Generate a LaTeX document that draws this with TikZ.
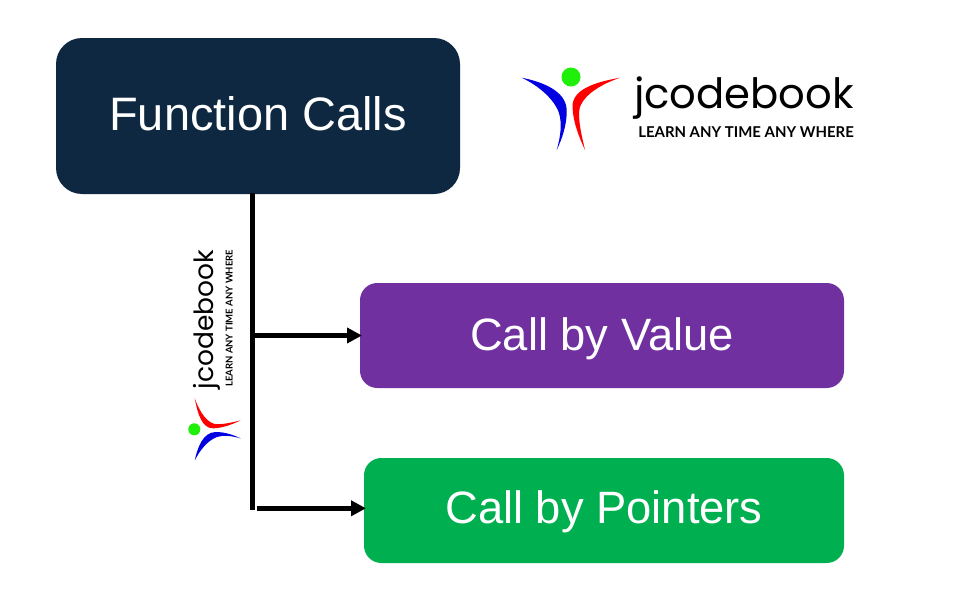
\documentclass[tikz,border=0pt]{standalone}
\usepackage{fontspec}
\setmainfont{Liberation Sans}
\newfontfamily\brandfont{Poppins}
\newfontfamily\tagfont{Lato}
\usetikzlibrary{arrows.meta}
\definecolor{navybox}{HTML}{0E2841}
\definecolor{purplebox}{HTML}{7030A0}
\definecolor{greenbox}{HTML}{00B050}
\newcommand{\onbaseline}[2]{\smash{\raisebox{-#1}{#2}}}
\tikzset{
  x=0.75pt, y=-0.75pt,
  callbox/.style={draw=none, rounded corners=#1, text=white, inner sep=0pt,
    font=\fontsize{34pt}{40pt}\selectfont},
  link/.style={line width=3.75pt, draw=black},
  arrowlink/.style={link, -{Triangle[length=11.25pt,width=11.25pt]}},
  brand/.style={anchor=base west, inner sep=0pt, transform shape, text=black},
}
% Logo: figure with raised arms and the wordmark, origin at the figure's head
\newcommand{\brandmark}{%
  \fill[fill={rgb,255:red,30;green,240;blue,10}] (0,0) circle[radius=9.5];
  \fill[fill={rgb,255:red,0;green,0;blue,225}] (-49.3,0.7) .. controls (-28,5) and (-5,14) .. (-4.3,33)
     .. controls (-4,48) and (-9,62) .. (-14.3,73)
     .. controls (-10,58) and (-9,46) .. (-12,36)
     .. controls (-17,22) and (-32,9) .. (-49.3,0.7) -- cycle;
  \fill[red] (49,0.7) .. controls (25,5) and (1,12) .. (1.5,30)
     .. controls (2,45) and (8,60) .. (14,73)
     .. controls (11,60) and (8,48) .. (8,36)
     .. controls (8,22) and (25,9) .. (49,0.7) -- cycle;
  \node[brand, font=\fontsize{31.3pt}{36pt}\brandfont\selectfont] (wordmark) at (63,31) {jcodebook};
  \node[brand, font=\fontsize{11.2pt}{13pt}\tagfont\bfseries\selectfont] (tagline) at (67,60.5) {LEARN ANY TIME ANY WHERE};
}
\begin{document}
\begin{tikzpicture}
\useasboundingbox (0,0) rectangle (954,614);
\fill[white] (0,0) rectangle (954,614);

\node[callbox=19.5pt, fill=navybox, minimum width=303pt, minimum height=117pt, font=\fontsize{35.2pt}{40pt}\selectfont] (calls) at (258,116) {\onbaseline{11pt}{Function Calls}};
\node[callbox=13pt, fill=purplebox, minimum width=363pt, minimum height=78.75pt] (value) at (602,335.5) {\onbaseline{10.9pt}{Call by Value}};
\node[callbox=13pt, fill=greenbox, minimum width=360pt, minimum height=78.75pt] (pointers) at (604,510.5) {\onbaseline{10.1pt}{Call by Pointers}};

% Trunk leaves the lower box edge left of centre; the branches are free-standing
\coordinate (trunktop) at (252.5,193);
\coordinate (trunkend) at (252.5,509.7);
\coordinate (branchA) at (255,335.5);
\coordinate (branchB) at (256.7,508.3);
\coordinate (tipA) at (362,335.5);
\coordinate (tipB) at (366,508.3);
\draw[link] (trunktop) -- (trunkend);
\draw[arrowlink] (branchA) -- (tipA);
\draw[arrowlink] (branchB) -- (tipB);

\begin{scope}[shift={(571,77)}]
  \brandmark
\end{scope}
\begin{scope}[shift={(194.3,429.3)}, rotate=90, scale=0.635]
  \brandmark
\end{scope}
\end{tikzpicture}
\end{document}
